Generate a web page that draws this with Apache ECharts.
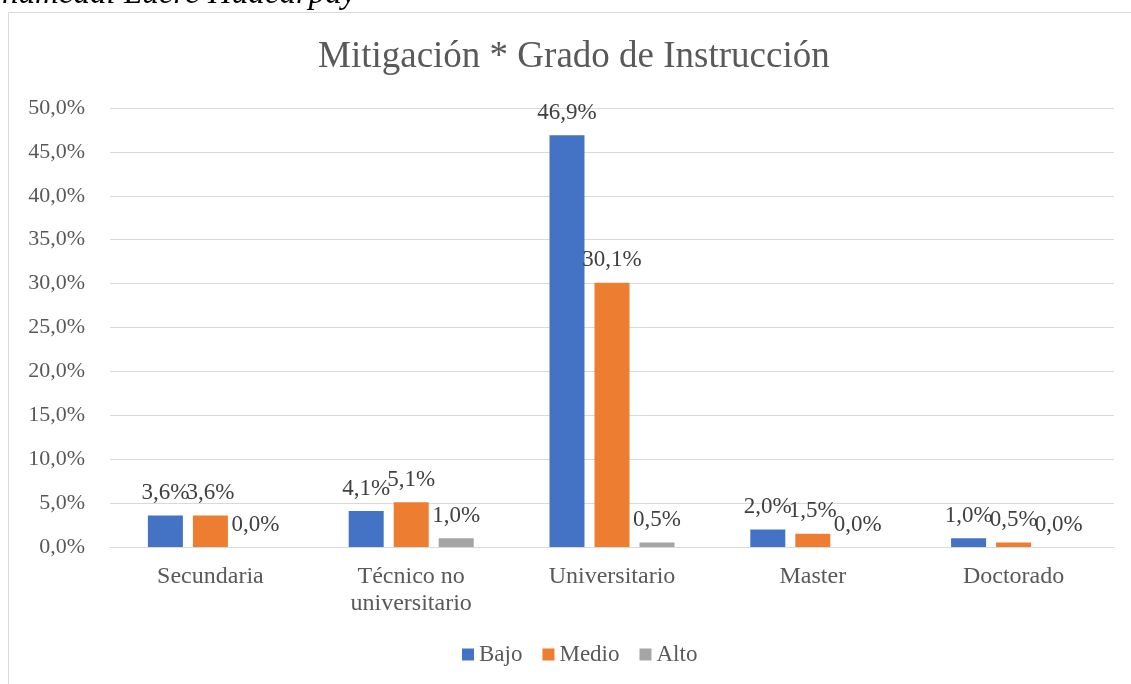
<!DOCTYPE html>
<html>
<head>
<meta charset="utf-8">
<script src="https://cdn.jsdelivr.net/npm/echarts@6/dist/echarts.min.js"></script>
<style>
html,body{margin:0;padding:0;background:#fff;}
#chart{width:1131px;height:684px;}
</style>
</head>
<body>
<div id="chart"></div>
<script>
const categories = ['Secundaria', 'Técnico no\nuniversitario', 'Universitario', 'Master', 'Doctorado'];
const bajo = [3.6, 4.1, 46.9, 2.0, 1.0];
const medio = [3.6, 5.1, 30.1, 1.5, 0.5];
const alto = [0.0, 1.0, 0.5, 0.0, 0.0];
const seriesNames = ['Bajo', 'Medio', 'Alto'];
const titleText = 'Mitigación * Grado de Instrucción';
const captionText = 'humedal Lucre Huacarpay';

const FONT = '"Liberation Serif", "Times New Roman", serif';
const fmt = v => v.toFixed(1).replace('.', ',') + '%';
const colors = ['#4472C4', '#ED7D31', '#A5A5A5'];

const chart = echarts.init(document.getElementById('chart'));
const mk = (name, data, color) => ({
  name: name,
  type: 'bar',
  data: data,
  barWidth: 35,
  barGap: '28.6%',
  itemStyle: { color: color },
  label: {
    show: true,
    position: 'top',
    distance: 11,
    fontFamily: FONT,
    fontSize: 23,
    color: '#404040',
    formatter: p => fmt(p.value)
  }
});

chart.setOption({
  animation: false,
  textStyle: { fontFamily: FONT },
  graphic: [
    { type: 'rect', shape: { x: 8.5, y: 12.5, width: 1200, height: 800 }, style: { fill: 'none', stroke: '#d9d9d9', lineWidth: 1 }, z: -1 },
    { type: 'text', x: 2, y: -6, style: { text: captionText, fontFamily: FONT, fontSize: 33, fontStyle: 'italic', fill: '#000', verticalAlign: 'middle', align: 'left' } }
  ],
  title: {
    text: titleText,
    left: 313,
    top: 34,
    textStyle: { fontFamily: FONT, fontSize: 37, fontWeight: 'normal', color: '#595959' }
  },
  legend: {
    top: 643,
    left: 462,
    padding: 0,
    itemWidth: 12,
    itemHeight: 12,
    itemGap: 20,
    icon: 'rect',
    textStyle: { fontFamily: FONT, fontSize: 23, color: '#595959' },
    data: seriesNames
  },
  grid: { left: 110, right: 17, top: 108, bottom: 137, containLabel: false },
  xAxis: {
    type: 'category',
    data: categories,
    axisLine: { lineStyle: { color: '#d9d9d9', width: 1 } },
    axisTick: { show: false },
    axisLabel: { fontFamily: FONT, fontSize: 24, color: '#595959', margin: 16, lineHeight: 27, interval: 0 }
  },
  yAxis: {
    type: 'value',
    min: 0,
    max: 50,
    interval: 5,
    axisLine: { show: false },
    axisTick: { show: false },
    splitLine: { lineStyle: { color: '#d9d9d9', width: 1 } },
    axisLabel: { fontFamily: FONT, fontSize: 22, color: '#595959', margin: 25, formatter: v => fmt(v) }
  },
  series: [
    mk(seriesNames[0], bajo, colors[0]),
    mk(seriesNames[1], medio, colors[1]),
    mk(seriesNames[2], alto, colors[2])
  ]
});
</script>
</body>
</html>
